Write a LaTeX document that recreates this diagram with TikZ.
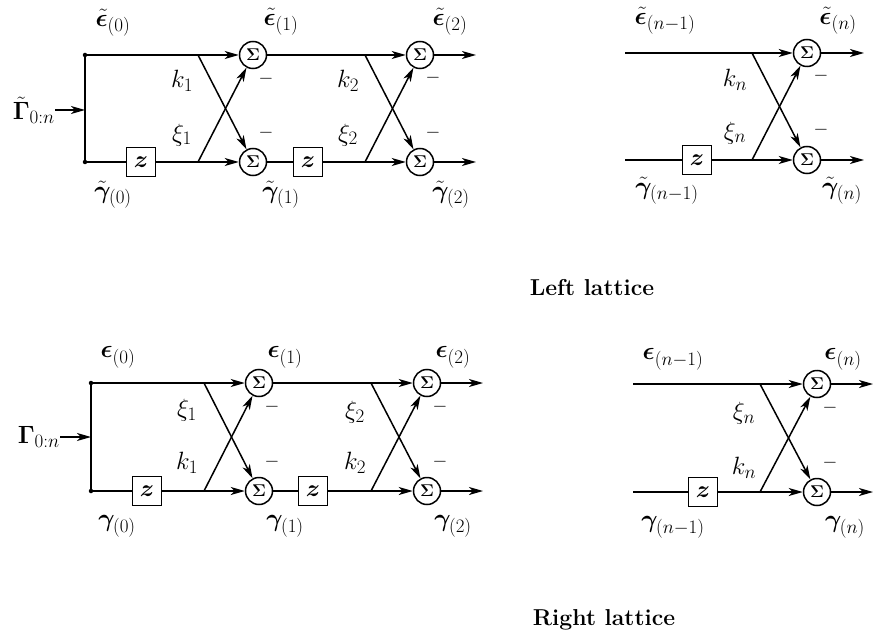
\documentclass[tikz,border=0pt]{standalone}
\usepackage{fix-cm}
\usepackage{amsmath}
\usepackage{amssymb}
\usepackage{bm}
\usetikzlibrary{positioning, arrows.meta}
\DeclareMathSizes{25}{25}{19}{14}

\tikzset{
    suma/.style={circle, draw, line width=1.5pt, inner sep=0pt, minimum size=27pt, font=\fontsize{17}{17}\selectfont},
    retardo/.style={rectangle, draw, line width=1.8pt, inner sep=0pt, minimum size=29pt, font=\fontsize{24}{24}\selectfont},
    punto/.style={circle, fill, inner sep=0pt, minimum size=4.5pt},
    linea/.style={line width=1.5pt},
    flecha/.style={line width=1.5pt, -{Stealth[length=14pt, width=8pt, inset=4pt]}},
    etiq/.style={font=\fontsize{25}{25}\selectfont, inner sep=0pt},
    menos/.style={font=\fontsize{19}{19}\selectfont, inner sep=0pt},
    titulo/.style={font=\fontsize{23}{26}\selectfont\bfseries}
}

\begin{document}
\begin{tikzpicture}[x=1pt, y=-1pt]
    \useasboundingbox (0,0) rectangle (874,636);

    % Nodos - left lattice
    \node[punto] (A0) at (85,55) {};
    \node[punto] (B0) at (85,162) {};
    \coordinate (G) at (85,110);
    \node[retardo] (AZ1) at (141,162) {$\bm{z}$};
    \coordinate (AX1) at (198,55);
    \coordinate (BX1) at (198,162);
    \node[suma] (AS1) at (253,55) {$\bm{\Sigma}$};
    \node[suma] (BS1) at (253,162) {$\bm{\Sigma}$};
    \node[retardo] (AZ2) at (308,162) {$\bm{z}$};
    \coordinate (AX2) at (365,55);
    \coordinate (BX2) at (365,162);
    \node[suma] (AS2) at (420,55) {$\bm{\Sigma}$};
    \node[suma] (BS2) at (420,162) {$\bm{\Sigma}$};
    \coordinate (AE2) at (476,55);
    \coordinate (BE2) at (476,162);
    \coordinate (A3) at (625,53);
    \coordinate (B3) at (625,160);
    \node[retardo] (AZ3) at (697,160) {$\bm{z}$};
    \coordinate (AX3) at (752,53);
    \coordinate (BX3) at (752,160);
    \node[suma] (AS3) at (807,53) {$\bm{\Sigma}$};
    \node[suma] (BS3) at (807,160) {$\bm{\Sigma}$};
    \coordinate (AE3) at (864,53);
    \coordinate (BE3) at (864,160);

    % Conexiones - left lattice
    \node[etiq, anchor=east] (GL) at (55,110) {$\tilde{\bm{\Gamma}}_{0:n}$};
    \draw[flecha] (GL) -- (G);
    \draw[linea] (A0) -- (B0);
    \draw[flecha] (A0) -- (AS1);
    \draw[linea] (B0) -- (AZ1);
    \draw[flecha] (AZ1) -- (BS1);
    \draw[flecha] (AX1) -- (BS1);
    \draw[flecha] (BX1) -- (AS1);
    \draw[flecha] (AS1) -- (AS2);
    \draw[linea] (BS1) -- (AZ2);
    \draw[flecha] (AZ2) -- (BS2);
    \draw[flecha] (AX2) -- (BS2);
    \draw[flecha] (BX2) -- (AS2);
    \draw[flecha] (AS2) -- (AE2);
    \draw[flecha] (BS2) -- (BE2);
    \draw[flecha] (A3) -- (AS3);
    \draw[linea] (B3) -- (AZ3);
    \draw[flecha] (AZ3) -- (BS3);
    \draw[flecha] (AX3) -- (BS3);
    \draw[flecha] (BX3) -- (AS3);
    \draw[flecha] (AS3) -- (AE3);
    \draw[flecha] (BS3) -- (BE3);

    % Etiquetas - left lattice
    \node[etiq] (Ae0) at (113,23) {$\tilde{\bm{\epsilon}}_{(0)}$};
    \node[etiq] (Ae1) at (281,22) {$\tilde{\bm{\epsilon}}_{(1)}$};
    \node[etiq] (Ae2) at (450,22) {$\tilde{\bm{\epsilon}}_{(2)}$};
    \node[etiq] (Ae3) at (665,21) {$\tilde{\bm{\epsilon}}_{(n-1)}$};
    \node[etiq] (Ae4) at (838,21) {$\tilde{\bm{\epsilon}}_{(n)}$};
    \node[etiq] (Bg0) at (113,195) {$\tilde{\bm{\gamma}}_{(0)}$};
    \node[etiq] (Bg1) at (281,195) {$\tilde{\bm{\gamma}}_{(1)}$};
    \node[etiq] (Bg2) at (451,195) {$\tilde{\bm{\gamma}}_{(2)}$};
    \node[etiq] (Bg3) at (667,191) {$\tilde{\bm{\gamma}}_{(n-1)}$};
    \node[etiq] (Bg4) at (842,191) {$\tilde{\bm{\gamma}}_{(n)}$};
    \node[etiq] (Ak1) at (182,81) {$k_1$};
    \node[etiq] (Ax1) at (182,135) {$\xi_1$};
    \node[etiq] (Ak2) at (348,81) {$k_2$};
    \node[etiq] (Ax2) at (348,135) {$\xi_2$};
    \node[etiq] (Ak3) at (735,80) {$k_n$};
    \node[etiq] (Ax3) at (735,133) {$\xi_n$};
    \node[menos] (Am1) at (266,79) {$-$};
    \node[menos] (Bm1) at (266,133) {$-$};
    \node[menos] (Am2) at (433,78) {$-$};
    \node[menos] (Bm2) at (433,133) {$-$};
    \node[menos] (Am3) at (821,76) {$-$};
    \node[menos] (Bm3) at (821,130) {$-$};
    \node[titulo] (TA) at (592,288) {Left lattice};

    % Nodos - right lattice
    \node[punto] (C0) at (91,383) {};
    \node[punto] (D0) at (91,491) {};
    \coordinate (H) at (91,437);
    \node[retardo] (CZ1) at (147,491) {$\bm{z}$};
    \coordinate (CX1) at (204,383);
    \coordinate (DX1) at (204,491);
    \node[suma] (CS1) at (259,383) {$\bm{\Sigma}$};
    \node[suma] (DS1) at (259,491) {$\bm{\Sigma}$};
    \node[retardo] (CZ2) at (313,491) {$\bm{z}$};
    \coordinate (CX2) at (371,383);
    \coordinate (DX2) at (371,491);
    \node[suma] (CS2) at (427,383) {$\bm{\Sigma}$};
    \node[suma] (DS2) at (427,491) {$\bm{\Sigma}$};
    \coordinate (CE2) at (483,383);
    \coordinate (DE2) at (483,491);
    \coordinate (C3) at (633,384);
    \coordinate (D3) at (633,492);
    \node[retardo] (CZ3) at (703,492) {$\bm{z}$};
    \coordinate (CX3) at (760,384);
    \coordinate (DX3) at (760,492);
    \node[suma] (CS3) at (817,384) {$\bm{\Sigma}$};
    \node[suma] (DS3) at (817,492) {$\bm{\Sigma}$};
    \coordinate (CE3) at (873,384);
    \coordinate (DE3) at (873,492);

    % Conexiones - right lattice
    \node[etiq, anchor=east] (HL) at (60,437) {$\bm{\Gamma}_{0:n}$};
    \draw[flecha] (HL) -- (H);
    \draw[linea] (C0) -- (D0);
    \draw[flecha] (C0) -- (CS1);
    \draw[linea] (D0) -- (CZ1);
    \draw[flecha] (CZ1) -- (DS1);
    \draw[flecha] (CX1) -- (DS1);
    \draw[flecha] (DX1) -- (CS1);
    \draw[flecha] (CS1) -- (CS2);
    \draw[linea] (DS1) -- (CZ2);
    \draw[flecha] (CZ2) -- (DS2);
    \draw[flecha] (CX2) -- (DS2);
    \draw[flecha] (DX2) -- (CS2);
    \draw[flecha] (CS2) -- (CE2);
    \draw[flecha] (DS2) -- (DE2);
    \draw[flecha] (C3) -- (CS3);
    \draw[linea] (D3) -- (CZ3);
    \draw[flecha] (CZ3) -- (DS3);
    \draw[flecha] (CX3) -- (DS3);
    \draw[flecha] (DX3) -- (CS3);
    \draw[flecha] (CS3) -- (CE3);
    \draw[flecha] (DS3) -- (DE3);

    % Etiquetas - right lattice
    \node[etiq] (Ce0) at (118,357) {$\bm{\epsilon}_{(0)}$};
    \node[etiq] (Ce1) at (285,357) {$\bm{\epsilon}_{(1)}$};
    \node[etiq] (Ce2) at (453,357) {$\bm{\epsilon}_{(2)}$};
    \node[etiq] (Ce3) at (673,359) {$\bm{\epsilon}_{(n-1)}$};
    \node[etiq] (Ce4) at (843,359) {$\bm{\epsilon}_{(n)}$};
    \node[etiq] (Dg0) at (117,526) {$\bm{\gamma}_{(0)}$};
    \node[etiq] (Dg1) at (285,526) {$\bm{\gamma}_{(1)}$};
    \node[etiq] (Dg2) at (453,526) {$\bm{\gamma}_{(2)}$};
    \node[etiq] (Dg3) at (673,527) {$\bm{\gamma}_{(n-1)}$};
    \node[etiq] (Dg4) at (845,527) {$\bm{\gamma}_{(n)}$};
    \node[etiq] (Cx1) at (187,410) {$\xi_1$};
    \node[etiq] (Dk1) at (187,463) {$k_1$};
    \node[etiq] (Cx2) at (355,412) {$\xi_2$};
    \node[etiq] (Dk2) at (355,463) {$k_2$};
    \node[etiq] (Cx3) at (744,413) {$\xi_n$};
    \node[etiq] (Dk3) at (744,468) {$k_n$};
    \node[menos] (Cm1) at (272,407) {$-$};
    \node[menos] (Dm1) at (272,462) {$-$};
    \node[menos] (Cm2) at (440,407) {$-$};
    \node[menos] (Dm2) at (440,462) {$-$};
    \node[menos] (Cm3) at (830,408) {$-$};
    \node[menos] (Dm3) at (830,463) {$-$};
    \node[titulo] (TB) at (604,620) {Right lattice};
\end{tikzpicture}
\end{document}
